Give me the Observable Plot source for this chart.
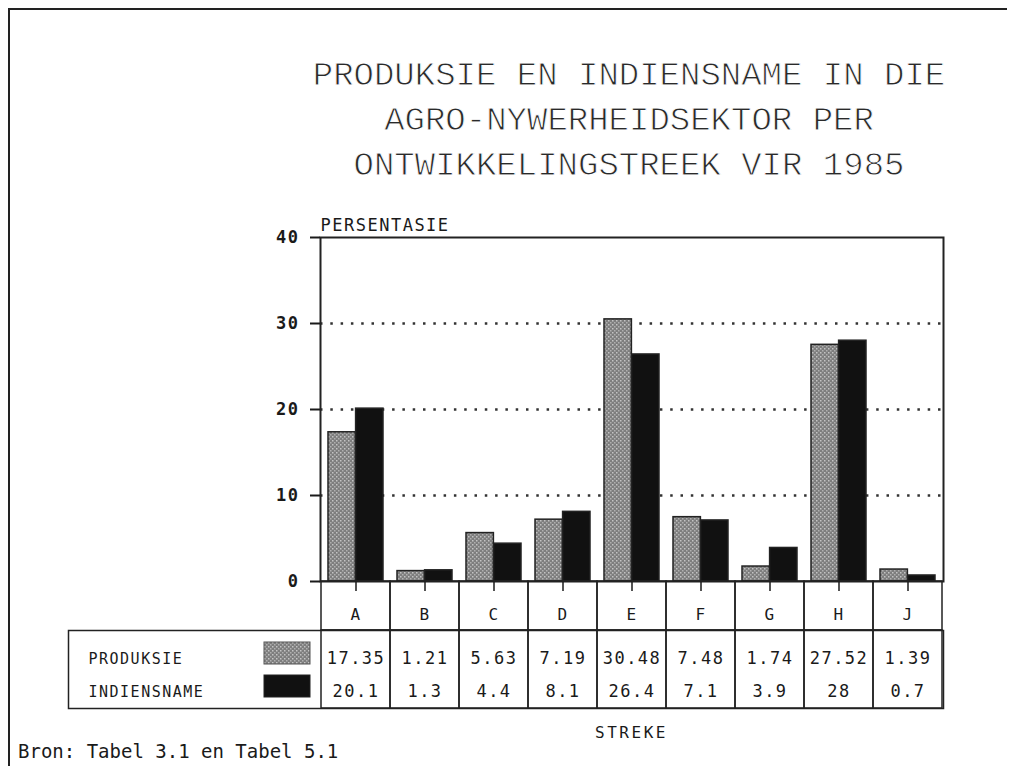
<!DOCTYPE html>
<html>
<head>
<meta charset="utf-8">
<script src="https://cdn.jsdelivr.net/npm/d3@7"></script>
<script src="https://cdn.jsdelivr.net/npm/@observablehq/plot@0.6"></script>
<style>
  html, body { margin: 0; padding: 0; background: #fff; }
  #page { position: relative; width: 1015px; height: 766px; overflow: hidden; background: #fff; }
  #border { position: absolute; left: 8px; top: 8px; width: 997px; height: 770px;
            border-top: 2.5px solid #222; border-left: 2.5px solid #222; }
  .abs { position: absolute; }
  #title { left: 229px; width: 800px; top: 54px; text-align: center;
           font-family: "Liberation Mono", "DejaVu Sans Mono", monospace; font-size: 34px;
           line-height: 45px; color: #2a2a2a; white-space: pre;
           -webkit-text-stroke: 0.9px #fff; }
  #xlabel { left: 320px; width: 623px; top: 723px; text-align: center;
            font-family: "DejaVu Sans Mono", monospace; font-size: 16px;
            letter-spacing: 2.5px; color: #1a1a1a; }
  #source { left: 18px; top: 741px; line-height: 20px; font-family: "DejaVu Sans Mono", monospace; font-size: 19px; color: #1a1a1a; white-space: pre; }
</style>
</head>
<body>
<svg width="0" height="0" style="position:absolute">
  <defs>
    <pattern id="stipple" width="4" height="4" patternUnits="userSpaceOnUse">
      <rect width="4" height="4" fill="#7e7e7e"></rect>
      <rect x="0" y="0" width="1.5" height="1.5" fill="#c4c4c4"></rect>
      <rect x="2" y="2" width="1.5" height="1.5" fill="#b0b0b0"></rect>
    </pattern>
  </defs>
</svg>
<div id="page">
  <div id="border"></div>
  <div id="title" class="abs"></div>
  <div id="main" class="abs" style="left:0;top:0"></div>
  <div id="header" class="abs" style="left:0;top:581px"></div>
  <div id="values" class="abs" style="left:0;top:630px"></div>
  <div id="xlabel" class="abs"></div>
  <div id="source" class="abs"></div>
</div>
<script>
// ---- data ----
const titleLines = [
  "PRODUKSIE EN INDIENSNAME IN DIE",
  "AGRO-NYWERHEIDSEKTOR PER",
  "ONTWIKKELINGSTREEK VIR 1985"
];
const yLabel = "PERSENTASIE";
const xLabel = "STREKE";
const sourceText = "Bron: Tabel 3.1 en Tabel 5.1";
const streke = ["A", "B", "C", "D", "E", "F", "G", "H", "J"];
const series = ["PRODUKSIE", "INDIENSNAME"];
const produksie = [17.35, 1.21, 5.63, 7.19, 30.48, 7.48, 1.74, 27.52, 1.39];
const indiensname = [20.1, 1.3, 4.4, 8.1, 26.4, 7.1, 3.9, 28, 0.7];
const yTicks = [0, 10, 20, 30, 40];
const gridTicks = [10, 20, 30];
const seriesColors = ["url(#stipple)", "#111111"];

// ---- derived tables ----
const rows = streke.map((s, i) => ({streek: s, produksie: produksie[i], indiensname: indiensname[i]}));
const tidy = [];
streke.forEach((s, i) => {
  tidy.push({streek: s, series: series[0], value: produksie[i]});
  tidy.push({streek: s, series: series[1], value: indiensname[i]});
});

const ink = "#222";
const baseStyle = {background: "transparent", overflow: "visible", fontFamily: "DejaVu Sans Mono, monospace", color: "#1a1a1a", letterSpacing: "1.5px"};

document.getElementById("title").textContent = titleLines.join("\n");
document.getElementById("xlabel").textContent = xLabel;
document.getElementById("source").textContent = sourceText;

// ---- main bar chart ----
const main = Plot.plot({
  width: 1015, height: 600,
  marginLeft: 320, marginRight: 72, marginTop: 237, marginBottom: 19,
  style: baseStyle,
  x: {type: "band", domain: streke, padding: 0, axis: null},
  y: {domain: [0, 40], axis: null},
  marks: [
    Plot.ruleY(gridTicks, {stroke: "#333", strokeWidth: 2.5, strokeDasharray: "2.5,7.8"}),
    Plot.barY(rows, {x: "streek", y: "produksie", fill: seriesColors[0], stroke: ink, strokeWidth: 1.5, insetLeft: 7, insetRight: 34.6}),
    Plot.barY(rows, {x: "streek", y: "indiensname", fill: seriesColors[1], stroke: ink, strokeWidth: 1.5, insetLeft: 34.6, insetRight: 7}),
    Plot.frame({stroke: ink, strokeWidth: 2}),
    Plot.axisY({ticks: yTicks, tickSize: 10, tickPadding: 11, fontSize: 17, fontWeight: "bold", label: null, strokeWidth: 2}),
    Plot.axisX({tickSize: 10, tickFormat: () => "", label: null, strokeWidth: 1.5}),
    Plot.text([yLabel], {frameAnchor: "top-left", dy: -19, textAnchor: "start", fontSize: 17})
  ]
});
document.getElementById("main").appendChild(main);

// ---- table header (region letters) ----
const header = Plot.plot({
  width: 1015, height: 49,
  marginLeft: 320, marginRight: 72, marginTop: 0, marginBottom: 0,
  style: baseStyle,
  x: {type: "band", domain: streke, padding: 0, axis: null},
  marks: [
    Plot.cell(streke, {x: d => d, fill: "none", stroke: ink, strokeWidth: 1.5}),
    Plot.text(streke, {x: d => d, dy: 9, fontSize: 16})
  ]
});
document.getElementById("header").appendChild(header);

// ---- table values with legend ----
const values = Plot.plot({
  width: 1015, height: 78,
  marginLeft: 68, marginRight: 72, marginTop: 0, marginBottom: 0,
  style: baseStyle,
  x: {type: "band", domain: streke, range: [320, 943], padding: 0, axis: null},
  y: {type: "band", domain: series, range: [12, 78], padding: 0, axis: null},
  marks: [
    Plot.frame({stroke: ink, strokeWidth: 1.5}),
    Plot.cell(streke, {x: d => d, fill: "none", stroke: ink, strokeWidth: 1.5}),
    Plot.cell([series[0]], {y: d => d, fill: seriesColors[0], stroke: "#555", strokeWidth: 1, insetLeft: 196, insetRight: 633, insetTop: 0, insetBottom: 11}),
    Plot.cell([series[1]], {y: d => d, fill: seriesColors[1], stroke: ink, strokeWidth: 1, insetLeft: 196, insetRight: 633, insetTop: 0, insetBottom: 11}),
    Plot.text(series, {y: d => d, text: d => d, frameAnchor: "left", dx: 20, textAnchor: "start", fontSize: 15}),
    Plot.text(tidy, {x: "streek", y: "series", text: d => String(d.value), fontSize: 17})
  ]
});
document.getElementById("values").appendChild(values);
</script>
</body>
</html>
